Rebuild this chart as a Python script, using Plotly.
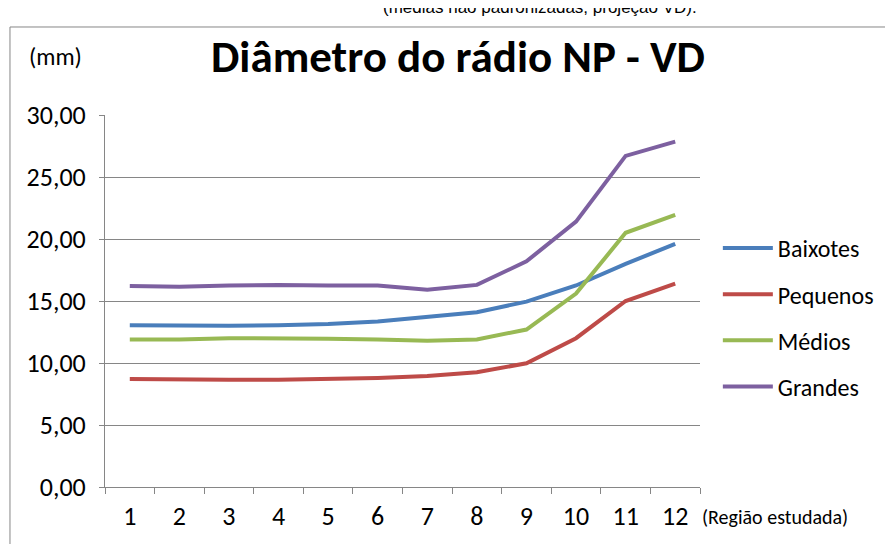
import plotly.graph_objects as go

# regiões estudadas (1 a 12)
regioes = [str(i) for i in range(1, 13)]

# diâmetro médio (mm) por grupo
baixotes = [13.05, 13.0, 13.0, 13.05, 13.15, 13.35, 13.7, 14.1, 14.95, 16.25, 18.0, 19.6]
pequenos = [8.7, 8.65, 8.65, 8.65, 8.7, 8.8, 8.95, 9.25, 9.98, 12.0, 15.0, 16.4]
medios = [11.9, 11.9, 12.0, 12.0, 11.95, 11.9, 11.8, 11.9, 12.7, 15.6, 20.5, 21.95]
grandes = [16.2, 16.15, 16.25, 16.3, 16.25, 16.25, 15.9, 16.3, 18.2, 21.4, 26.7, 27.85]

series = [
    ("Baixotes", baixotes, "#4A7EBB"),
    ("Pequenos", pequenos, "#BE4B48"),
    ("Médios", medios, "#98B954"),
    ("Grandes", grandes, "#7D60A0"),
]

fonte = "Carlito, Liberation Sans Narrow, Roboto, sans-serif"
cinza = "#868686"

fig = go.Figure()
for i, (nome, valores, cor) in enumerate(series):
    fig.add_trace(go.Scatter(
        x=regioes, y=valores, mode="lines", name=nome,
        legendgroup=str(i),
        line=dict(color=cor, width=4),
    ))

# a página tem margem de 8px, por isso a figura é 885x536
fig.update_layout(
    width=885, height=536,
    margin=dict(l=97, r=193, t=107, b=57),
    paper_bgcolor="white", plot_bgcolor="white",
    font=dict(family=fonte, size=26, color="black"),
    showlegend=True,
    legend=dict(
        x=1.03, y=0.456, xanchor="left", yanchor="middle",
        traceorder="grouped", tracegroupgap=12, itemwidth=50,
        font=dict(size=24),
    ),
    xaxis=dict(
        type="category", tickson="boundaries", range=[-0.5, 11.5],
        ticks="outside", ticklen=6, tickcolor=cinza,
        showline=True, linecolor=cinza, showgrid=False,
        ticklabelstandoff=6,
    ),
    yaxis=dict(
        range=[0, 30], dtick=5, tickformat=".2f",
        ticks="outside", ticklen=5, tickcolor=cinza,
        showline=True, linecolor=cinza,
        gridcolor=cinza, gridwidth=1, zeroline=False,
        ticklabelstandoff=8,
    ),
    separators=",.",
    shapes=[dict(
        type="rect", xref="paper", yref="paper",
        x0=-0.1597, x1=1.6, y0=-0.5, y1=1.2366,
        line=dict(color=cinza, width=1), layer="below",
    )],
    annotations=[
        dict(text="<b>Diâmetro do rádio NP - VD</b>", xref="paper", yref="paper",
             x=0.593, y=1.158, xanchor="center", yanchor="middle",
             showarrow=False, font=dict(size=45, family=fonte)),
        dict(text="(mm)", xref="paper", yref="paper",
             x=-0.084, y=1.158, xanchor="center", yanchor="middle",
             showarrow=False, font=dict(size=24, family=fonte)),
        dict(text="(Região estudada)", xref="paper", yref="paper",
             x=1.0, y=-0.081, xanchor="left", yanchor="middle",
             showarrow=False, font=dict(size=20, family=fonte)),
        dict(text="(médias não padronizadas, projeção VD).", xref="paper", yref="paper",
             x=0.731, y=1.29, xanchor="center", yanchor="middle",
             showarrow=False, font=dict(size=17, family="Liberation Sans, Arial")),
    ],
)

fig.write_html("out.html", config={"displayModeBar": False})
